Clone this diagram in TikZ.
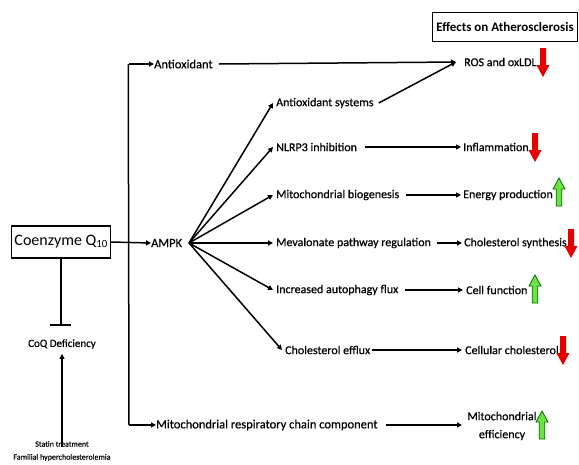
\documentclass[tikz,border=0pt]{standalone}
\usepackage{fontspec}
\setmainfont{Carlito}
\newfontfamily\medfont{Carlito}[FakeBold=0.6]
\usetikzlibrary{arrows.meta}
\tikzset{
  lbl/.style={inner sep=0pt, anchor=west, font=\medfont\fontsize{12.5}{13}\selectfont},
  rlbl/.style={inner sep=0pt, anchor=west, font=\medfont\fontsize{12}{13}\selectfont},
  con/.style={line width=1.5pt, -{Triangle[length=5pt,width=5pt]}},
  plain/.style={line width=1.5pt},
  redarr/.pic={\fill[red!90!black] (-3,-14) -- (3,-14) -- (3,3) -- (6.5,3) -- (0,15) -- (-6.5,3) -- (-3,3) -- cycle;},
  greenarr/.pic={\draw[line width=0.8pt, draw=green!45!black, fill={rgb,255:red,110;green,225;blue,70}] (-2.8,14) -- (2.8,14) -- (2.8,-3) -- (6,-3) -- (0,-14) -- (-6,-3) -- (-2.8,-3) -- cycle;}
}
\begin{document}
\begin{tikzpicture}[x=1pt,y=-1pt]
\useasboundingbox (0,0) rectangle (579,464);
% header
\node[draw, line width=1pt, inner sep=0pt, minimum width=145pt, minimum height=29pt, font=\bfseries\fontsize{13}{14}\selectfont] (hdr) at (505,27) {Effects on Atherosclerosis};
% main box
\node[draw, line width=1.1pt, inner sep=0pt, minimum width=99pt, minimum height=32pt, font=\fontsize{16}{17}\selectfont] (coq) at (61,242) {Coenzyme Q\raisebox{-0.15ex}{\fontsize{11}{11}\selectfont 10}};
% left column nodes
\node[lbl] (antiox) at (154,64) {Antioxidant};
\node[lbl] (ampk) at (151,243) {AMPK};
\node[lbl] (mrc) at (156,425) {Mitochondrial respiratory chain component};
% middle column
\node[rlbl] (as) at (276,103) {Antioxidant systems};
\node[rlbl] (nl) at (276,147) {NLRP3 inhibition};
\node[rlbl] (mb) at (276,195) {Mitochondrial biogenesis};
\node[rlbl] (mv) at (276,243) {Mevalonate pathway regulation};
\node[rlbl] (af) at (276,290) {Increased autophagy flux};
\node[rlbl] (ce) at (285,350) {Cholesterol efflux};
% right column
\node[rlbl] (ros) at (464,62) {ROS and oxLDL};
\node[rlbl] (inf) at (463,147) {Inflammation};
\node[rlbl] (ep) at (463,195) {Energy production};
\node[rlbl] (cs) at (464,243) {Cholesterol synthesis};
\node[rlbl] (cf) at (466,290) {Cell function};
\node[rlbl] (cc) at (465,350) {Cellular cholesterol};
\node[rlbl, anchor=center, align=center, font=\medfont\fontsize{12}{18}\selectfont] (me) at (502,426) {Mitochondrial\\efficiency};
% deficiency
\node[inner sep=0pt, font=\medfont\fontsize{11}{12}\selectfont] (def) at (62,344) {CoQ Deficiency};
\node[inner sep=0pt, align=center, font=\medfont\fontsize{8}{13}\selectfont] (st) at (62,451) {Statin treatment\\Familial hypercholesterolemia};
% trunk
\coordinate (top) at (129,64);
\coordinate (bot) at (129,425);
\draw[plain] (antiox.west -| top) ++(-0.75,0) -- (bot);
\draw[con] (top) -- (antiox.west);
\draw[con] (bot) -- (mrc.west);
\draw[con] (coq.east) -- (ampk.west);
% top row
\draw[con] ([xshift=6pt]antiox.east) -- ([xshift=-8pt]ros.west);
\draw[con] ([xshift=5pt]as.east) -- ([xshift=-8pt]ros.west);
% fan
\coordinate (hub) at (189,243);
\foreach \t in {as,nl,mb,mv,af,ce}{\draw[con] (hub) -- ([xshift=-3pt]\t.west);}
% row arrows
\draw[con] ([xshift=8pt]nl.east) -- ([xshift=-2pt]inf.west);
\draw[con] ([xshift=7pt]mb.east) -- ([xshift=-2pt]ep.west);
\draw[con] ([xshift=6pt]mv.east) -- ([xshift=-2pt]cs.west);
\draw[con] ([xshift=6pt]af.east) -- ([xshift=-3pt]cf.west);
\draw[con] ([xshift=2pt]ce.east) -- ([xshift=-3pt]cc.west);
\draw[con] ([xshift=8pt]mrc.east) -- (462,425);
% inhibition
\draw[plain] (coq.south) -- (61,325);
\draw[plain] (50,325) -- (71,325);
\draw[con] ([yshift=-6pt]st.north) -- ([yshift=-5pt]def.south);
% effect arrows
\pic at (543,62) {redarr};
\pic at (535,147) {redarr};
\pic at (559,192) {greenarr};
\pic at (571,243) {redarr};
\pic at (535,289) {greenarr};
\pic at (563,350) {redarr};
\pic at (542,425) {greenarr};
\end{tikzpicture}
\end{document}
